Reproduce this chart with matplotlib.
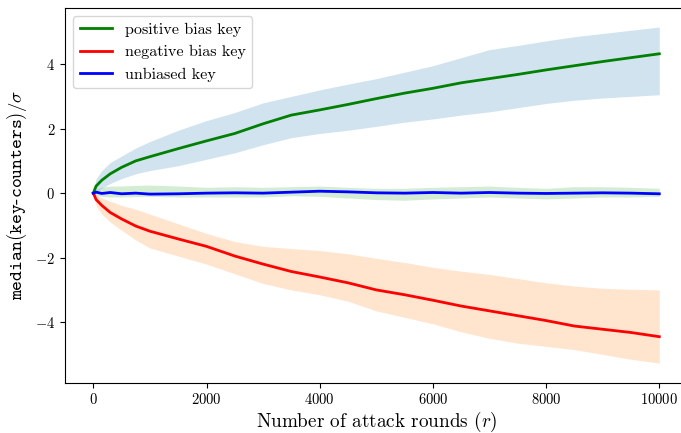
import numpy as np
import matplotlib
matplotlib.use("Agg")
from matplotlib import pyplot as plt

# Values
rounds = [0, 50, 150, 300, 500, 750, 1000, 1500, 2000, 2500, 3000, 3500, 4000,
          4500, 5000, 5500, 6000, 6500, 7000, 7500, 8000, 8500, 9000, 9500, 10000]

pos_median = [0, 0.22, 0.40, 0.60, 0.80, 1.00, 1.13, 1.38, 1.62, 1.85, 2.15, 2.42, 2.58,
              2.75, 2.93, 3.10, 3.25, 3.42, 3.55, 3.68, 3.82, 3.95, 4.08, 4.20, 4.32]
pos_upper = [0.05, 0.45, 0.70, 0.95, 1.15, 1.40, 1.60, 1.95, 2.25, 2.50, 2.80, 3.00, 3.20,
             3.38, 3.55, 3.75, 3.95, 4.20, 4.45, 4.58, 4.72, 4.85, 4.95, 5.05, 5.15]
pos_lower = [-0.05, 0.05, 0.15, 0.30, 0.45, 0.60, 0.70, 0.85, 1.05, 1.25, 1.50, 1.72, 1.85,
             1.95, 2.07, 2.20, 2.30, 2.42, 2.52, 2.65, 2.78, 2.88, 2.95, 3.00, 3.05]

neg_median = [0, -0.20, -0.38, -0.60, -0.80, -1.02, -1.18, -1.42, -1.65, -1.95, -2.20, -2.43, -2.60,
              -2.78, -3.00, -3.15, -3.32, -3.50, -3.65, -3.80, -3.95, -4.12, -4.22, -4.32, -4.45]
neg_upper = [0.05, -0.05, -0.15, -0.25, -0.38, -0.50, -0.65, -0.95, -1.25, -1.50, -1.65, -1.72, -1.78,
             -1.88, -2.02, -2.15, -2.30, -2.42, -2.52, -2.65, -2.78, -2.88, -2.95, -2.98, -3.00]
neg_lower = [-0.05, -0.40, -0.65, -0.90, -1.15, -1.45, -1.70, -1.95, -2.20, -2.50, -2.80, -3.00, -3.15,
             -3.35, -3.65, -3.85, -4.05, -4.30, -4.50, -4.65, -4.75, -4.85, -5.00, -5.15, -5.27]

unb_median = [0, 0.03, -0.01, 0.02, -0.02, 0.0, -0.03, -0.02, 0.0, 0.01, 0.0, 0.03, 0.06,
              0.04, 0.01, 0.0, 0.02, 0.0, 0.02, 0.0, -0.01, 0.0, 0.01, 0.0, -0.02]
unb_upper = [0.05, 0.12, 0.18, 0.22, 0.22, 0.24, 0.25, 0.22, 0.18, 0.20, 0.18, 0.20, 0.22,
             0.18, 0.15, 0.15, 0.18, 0.20, 0.22, 0.18, 0.15, 0.20, 0.20, 0.18, 0.15]
unb_lower = [-0.05, -0.08, -0.10, -0.12, -0.12, -0.11, -0.10, -0.12, -0.12, -0.12, -0.12, -0.08, -0.10,
             -0.15, -0.20, -0.22, -0.18, -0.15, -0.12, -0.15, -0.18, -0.15, -0.12, -0.12, -0.10]

plt.rcParams['font.family'] = 'serif'
plt.rcParams['font.serif'] = ['cmr10', 'DejaVu Serif']
plt.rcParams['mathtext.fontset'] = 'cm'
plt.rcParams['axes.formatter.use_mathtext'] = True

fig = plt.figure(figsize=(6.81, 4.33), dpi=100)
# right spine sits just past the picture edge, as in the reference crop
ax = fig.add_axes([65 / 681, 50.5 / 433, 622.6 / 681, 374.2 / 433])

ax.fill_between(rounds, pos_lower, pos_upper, color='tab:blue', alpha=0.2, lw=0)
ax.fill_between(rounds, neg_lower, neg_upper, color='tab:orange', alpha=0.2, lw=0)
ax.fill_between(rounds, unb_lower, unb_upper, color='tab:green', alpha=0.2, lw=0)

ax.plot(rounds, pos_median, color='g', lw=2, label='positive bias key')
ax.plot(rounds, neg_median, color='r', lw=2, label='negative bias key')
ax.plot(rounds, unb_median, color='b', lw=2, label='unbiased key')

ax.set_xlim(-500, 10500)
ax.set_ylim(-5.87, 5.73)
ax.set_xticks([0, 2000, 4000, 6000, 8000, 10000])
ax.set_yticks([-4, -2, 0, 2, 4])
ax.tick_params(labelsize=10.5)

ax.set_xlabel(r'Number of attack rounds ($r$)', fontsize=13.8, labelpad=2)
ax.set_ylabel(r'$\mathtt{median(key}$-$\mathtt{counters)}/\sigma$', fontsize=13.5)

ax.legend(loc='upper left', fontsize=11.6)

fig.savefig('out.png', dpi=100)
